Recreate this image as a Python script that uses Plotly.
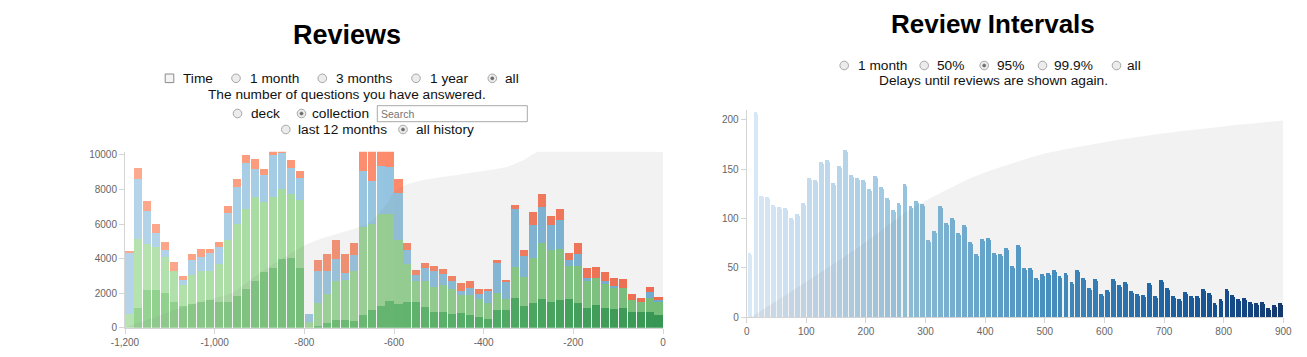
import plotly.graph_objects as go

W, H = 1307, 357

# ---------------- Reviews (left) data ----------------
review_bins = list(range(-1200, 0, 20))  # bin starts (days)
review_mature = [0, 1177, 2220, 2181, 2007, 1525, 1293, 1390, 1525, 1621,
                 1505, 1505, 1834, 2277, 2721, 3242, 3474, 4014, 4053, 3493,
                 0, 97, 270, 444, 444, 405, 753, 1042, 1274, 1544,
                 1390, 1486, 1505, 1235, 926, 907, 830, 888, 772, 637,
                 521, 1042, 1023, 1756, 1255, 1448, 1679, 1525, 1641, 1679,
                 1428, 1177, 1351, 1177, 1100, 1158, 946, 946, 946, 733]
review_young = [791, 3995, 2624, 2490, 2085, 1756, 1197, 1679, 1795, 1699,
                2201, 3571, 4168, 4632, 4864, 4053, 4111, 4053, 3725, 3899,
                347, 1370, 1718, 2277, 2335, 2895, 5076, 4980, 5346, 5076,
                3686, 2200, 1197, 1486, 1467, 1583, 1428, 1003, 1158, 1023,
                946, 985, 656, 1776, 1679, 2605, 3243, 2991, 2952, 1911,
                2162, 1564, 1525, 1371, 1216, 1158, 675, 559, 791, 811]
review_learn = [3552, 3455, 1950, 810, 405, 0, 289, 849, 772, 1003,
                984, 1563, 2162, 2664, 1640, 1544, 2412, 2046, 1486, 1312,
                483, 1853, 1332, 1274, 425, 946, 3242, 2470, 2760, 2721,
                2760, 811, 386, 772, 888, 617, 483, 271, 386, 289,
                675, 1717, 965, 3377, 1216, 1891, 2084, 1428, 1641, 328,
                714, 154, 0, 154, 116, 0, 0, 0, 328, 58]
review_relearn = [135, 656, 540, 541, 502, 560, 251, 347, 482, 251,
                  309, 444, 482, 424, 579, 386, 303, 187, 444, 406,
                  0, 617, 965, 1100, 1081, 695, 1529, 2108, 1220, 1259,
                  810, 425, 251, 290, 290, 309, 270, 444, 425, 290,
                  135, 174, 135, 193, 386, 772, 772, 560, 637, 444,
                  637, 579, 675, 560, 463, 502, 348, 213, 328, 193]
review_cum_x = [-1200, -1140, -1100, -1030, -1000, -963, -903, -836, -798, -761,
                -687, -651, -612, -600, -571, -534, -497, -459, -422, -385,
                -347, -311, -296, -278, 0]
review_cum_y = [0, 540, 940, 1505, 1700, 1990, 3100, 4207, 4790, 5170,
                5750, 6140, 7300, 7850, 8300, 8550, 8710, 8840, 9000, 9130,
                9320, 9710, 9960, 10190, 10190]
review_xtick_vals = [-1200, -1000, -800, -600, -400, -200, 0]
review_xtick_text = ["-1,200", "-1,000", "-800", "-600", "-400", "-200", "0"]
review_ytick_vals = [0, 2000, 4000, 6000, 8000, 10000]
review_ytick_text = ["0", "2000", "4000", "6000", "8000", "10000"]

# ---------------- Review Intervals (right) data ----------------
interval_bins = list(range(0, 900, 10))
interval_counts = [65, 208, 123, 122, 114, 112, 111, 101, 105, 116,
                   141, 139, 157, 159, 136, 153, 169, 144, 141, 139,
                   130, 143, 132, 121, 109, 116, 135, 113, 118, 115,
                   78, 87, 113, 95, 101, 85, 93, 76, 64, 79,
                   80, 65, 64, 70, 52, 73, 50, 50, 40, 44,
                   45, 48, 42, 45, 36, 48, 40, 30, 39, 24,
                   28, 39, 33, 36, 27, 24, 23, 35, 21, 38,
                   30, 21, 18, 26, 21, 21, 29, 25, 14, 18,
                   29, 22, 18, 19, 15, 14, 15, 9, 12, 14]
interval_cum_x = [0, 5, 105, 190, 268, 312, 368, 410, 500, 600, 700, 800, 900]
interval_cum_y = [0, 0, 38, 72, 107, 122, 139, 149, 166, 177.5, 186.5, 193.5, 199.5]
interval_xtick_vals = [0, 100, 200, 300, 400, 500, 600, 700, 800, 900]
interval_ytick_vals = [0, 50, 100, 150, 200]

# ---------------- colour helpers (d3 sequential schemes, basis interpolation) ----------------
GREENS = ["#f7fcf5", "#e5f5e0", "#c7e9c0", "#a1d99b", "#74c476", "#41ab5d", "#238b45", "#006d2c", "#00441b"]
BLUES = ["#f7fbff", "#deebf7", "#c6dbef", "#9ecae1", "#6baed6", "#4292c6", "#2171b5", "#08519c", "#08306b"]
REDS = ["#fff5f0", "#fee0d2", "#fcbba1", "#fc9272", "#fb6a4a", "#ef3b2c", "#cb181d", "#a50f15", "#67000d"]


def _rgb(h):
    h = h.lstrip("#")
    return [int(h[i:i + 2], 16) for i in (0, 2, 4)]


def _basis(t1, v0, v1, v2, v3):
    t2 = t1 * t1
    t3 = t2 * t1
    return ((1 - 3 * t1 + 3 * t2 - t3) * v0 + (4 - 6 * t2 + 3 * t3) * v1
            + (1 + 3 * t1 + 3 * t2 - 3 * t3) * v2 + t3 * v3) / 6


def interp(scheme, t):
    cols = [_rgb(c) for c in scheme]
    n = len(cols) - 1
    if t <= 0:
        t, i = 0.0, 0
    elif t >= 1:
        t, i = 1.0, n - 1
    else:
        i = int(t * n)
    out = []
    for k in range(3):
        v1, v2 = cols[i][k], cols[i + 1][k]
        v0 = cols[i - 1][k] if i > 0 else 2 * v1 - v2
        v3 = cols[i + 2][k] if i < n - 1 else 2 * v2 - v1
        out.append(max(0, min(255, round(_basis((t - i / n) * n, v0, v1, v2, v3)))))
    return "rgb(%d,%d,%d)" % tuple(out)


def ramp(scheme, lo, hi, n):
    return [interp(scheme, lo + (hi - lo) * i / n) for i in range(n)]


nrev = len(review_bins)
col_mature = ramp(GREENS, 0.4, 0.7, nrev)
col_young = ramp(GREENS, 0.3, 0.5, nrev)
col_learn = ramp(BLUES, 0.3, 0.5, nrev)
col_relearn = ramp(REDS, 0.3, 0.5, nrev)
nint = len(interval_bins)
col_int = [interp(BLUES, 0.15 + 0.85 * i / (nint - 1)) for i in range(nint)]

rev_x = [b + 10 for b in review_bins]
int_x = [b + 5 for b in interval_bins]

FONT = "Liberation Sans, Arial, sans-serif"
AREA = "rgba(128,128,128,0.1)"

fig = go.Figure()
for vals, cols, name in [(review_mature, col_mature, "Mature"),
                         (review_young, col_young, "Young"),
                         (review_learn, col_learn, "Learn"),
                         (review_relearn, col_relearn, "Relearn")]:
    fig.add_trace(go.Bar(x=rev_x, y=vals, width=18, name=name,
                         marker=dict(color=cols, line=dict(width=0)),
                         xaxis="x", yaxis="y", showlegend=False))
fig.add_trace(go.Scatter(x=review_cum_x, y=review_cum_y, mode="lines", fill="tozeroy",
                         fillcolor=AREA, line=dict(width=0, shape="spline", smoothing=0.6),
                         xaxis="x", yaxis="y", showlegend=False, hoverinfo="skip"))

fig.add_trace(go.Bar(x=int_x, y=interval_counts, width=8.2,
                     marker=dict(color=col_int, line=dict(width=0), cornerradius=2),
                     xaxis="x2", yaxis="y2", showlegend=False))
fig.add_trace(go.Scatter(x=interval_cum_x, y=interval_cum_y, mode="lines", fill="tozeroy",
                         fillcolor=AREA, line=dict(width=0, shape="spline", smoothing=0.6),
                         xaxis="x2", yaxis="y2", showlegend=False, hoverinfo="skip"))


def px(x):
    return x / W


def py(y):
    return 1 - y / H


axis_common = dict(showgrid=False, zeroline=False, showline=True, linecolor="#d4d4d4",
                   linewidth=1, ticks="outside", ticklen=5, tickcolor="#d4d4d4",
                   tickfont=dict(family=FONT, size=10, color="#666"), fixedrange=True,
                   automargin=False)

fig.update_layout(
    width=W, height=H, autosize=False,
    margin=dict(l=0, r=0, t=0, b=0, pad=0),
    paper_bgcolor="white", plot_bgcolor="white",
    barmode="stack", bargap=0,
    xaxis=dict(domain=[px(125), px(663)], range=[-1200, 0], anchor="y",
               tickvals=review_xtick_vals, ticktext=review_xtick_text, **axis_common),
    yaxis=dict(domain=[py(327.7), py(151.7)], range=[0, 10190], anchor="x",
               tickvals=review_ytick_vals, ticktext=review_ytick_text, **axis_common),
    xaxis2=dict(domain=[px(746.7), px(1283.3)], range=[0, 900], anchor="y2",
                tickvals=interval_xtick_vals, **axis_common),
    yaxis2=dict(domain=[py(317.3), py(110.1)], range=[0, 210], anchor="x2",
                tickvals=interval_ytick_vals, **axis_common),
)

ann = []
shapes = []


def text(x, y, s, size=13.7, color="#111", anchor="left", bold=False):
    ann.append(dict(x=px(x), y=py(y), xref="paper", yref="paper", text=("<b>%s</b>" % s) if bold else s,
                    showarrow=False, xanchor=anchor, yanchor="middle",
                    font=dict(family=FONT, size=size, color=color)))


def radio(cx, cy, selected=False, r=4.3):
    shapes.append(dict(type="circle", xref="paper", yref="paper",
                       x0=px(cx - r), x1=px(cx + r), y0=py(cy + r), y1=py(cy - r),
                       line=dict(color="#a6a6a6", width=1), fillcolor="#ececec"))
    if selected:
        d = 1.6
        shapes.append(dict(type="circle", xref="paper", yref="paper",
                           x0=px(cx - d), x1=px(cx + d), y0=py(cy + d), y1=py(cy - d),
                           line=dict(color="#6a6a6a", width=0.5), fillcolor="#6a6a6a"))


def checkbox(cx, cy, s=4.3):
    shapes.append(dict(type="rect", xref="paper", yref="paper",
                       x0=px(cx - s), x1=px(cx + s), y0=py(cy + s), y1=py(cy - s),
                       line=dict(color="#8a8a8a", width=1), fillcolor="#f4f4f4"))


# Left header
text(346.5, 35.5, "Reviews", size=27, anchor="center", bold=True, color="#000")
checkbox(169.5, 78.3)
text(180.5, 78.5, "Time")
radio(236, 78.3)
text(247.5, 78.5, "1 month")
radio(322.3, 78.3)
text(334, 78.5, "3 months")
radio(416, 78.3)
text(427.5, 78.5, "1 year")
radio(492.3, 78.3, True)
text(502.5, 78.5, "all")
text(346.5, 94.5, "The number of questions you have answered.", anchor="center")
radio(237.5, 113.5)
text(248.5, 113.5, "deck")
radio(301.5, 113.5, True)
text(310, 113.5, "collection")
shapes.append(dict(type="rect", xref="paper", yref="paper", x0=px(377.3), x1=px(527.3),
                   y0=py(121.7), y1=py(105.7), line=dict(color="#a9a9a9", width=1),
                   fillcolor="white"))
text(378.5, 113.8, "Search", size=10.5, color="#757575")
radio(285.8, 129.5)
text(295.5, 129.5, "last 12 months")
radio(403, 129.5, True)
text(413.5, 129.5, "all history")

# Right header
text(993, 24.5, "Review Intervals", size=26, anchor="center", bold=True, color="#000")
radio(844.2, 65.5)
text(855.5, 65.5, "1 month")
radio(924.2, 65.5)
text(934.5, 65.5, "50%")
radio(984.2, 65.5, True)
text(995, 65.5, "95%")
radio(1042.5, 65.5)
text(1052, 65.5, "99.9%")
radio(1116.5, 65.5)
text(1124.5, 65.5, "all")
text(993, 81, "Delays until reviews are shown again.", anchor="center")

fig.update_layout(annotations=ann, shapes=shapes)
fig.write_html("out.html", config={"displayModeBar": False},
               post_script="document.body.style.margin='0';document.body.style.overflow='hidden';")
